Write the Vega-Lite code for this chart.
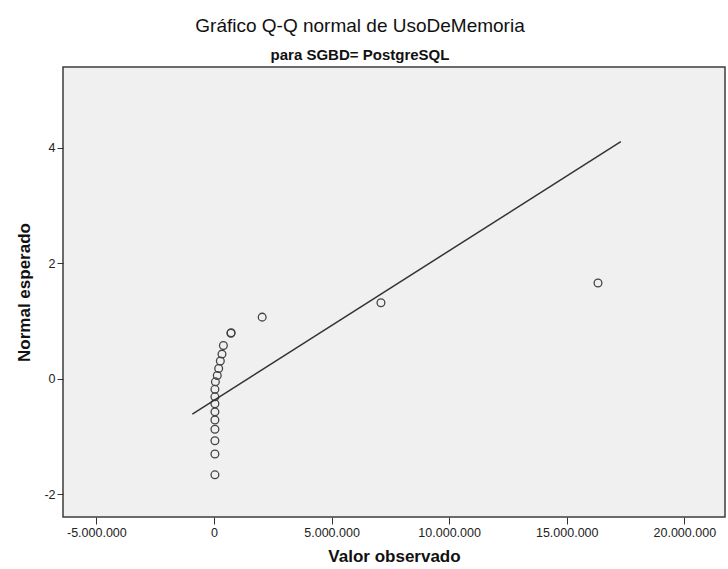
{
  "$schema": "https://vega.github.io/schema/vega-lite/v6.json",
  "width": 662,
  "height": 450,
  "autosize": {"type": "none"},
  "padding": {"left": 63, "top": 67, "right": 3, "bottom": 52},
  "background": "white",
  "config": {
    "locale": {"number": {"decimal": ",", "thousands": ".", "grouping": [3], "currency": ["", ""], "minus": "-"}},
    "view": {"fill": "#f0f0f0", "stroke": "#3c3c3c", "strokeWidth": 1.5},
    "font": "Liberation Sans"
  },
  "title": {
    "text": "Gráfico Q-Q normal de UsoDeMemoria",
    "subtitle": "para SGBD= PostgreSQL",
    "anchor": "middle",
    "dx": -34,
    "fontSize": 19,
    "fontWeight": "normal",
    "color": "#111",
    "subtitleFontSize": 15,
    "subtitleFontWeight": "bold",
    "subtitleColor": "#111",
    "subtitlePadding": 12,
    "offset": 4
  },
  "layer": [
    {
      "data": {"values": [
        {"observado": 2050000, "esperado": 1.07},
        {"observado": 720000, "esperado": 0.79},
        {"observado": 730000, "esperado": 0.80},
        {"observado": 400000, "esperado": 0.58},
        {"observado": 340000, "esperado": 0.43},
        {"observado": 270000, "esperado": 0.31},
        {"observado": 200000, "esperado": 0.18},
        {"observado": 140000, "esperado": 0.06},
        {"observado": 60000, "esperado": -0.05},
        {"observado": 40000, "esperado": -0.18},
        {"observado": 40000, "esperado": -0.31},
        {"observado": 40000, "esperado": -0.43},
        {"observado": 40000, "esperado": -0.57},
        {"observado": 40000, "esperado": -0.71},
        {"observado": 40000, "esperado": -0.87},
        {"observado": 40000, "esperado": -1.07},
        {"observado": 40000, "esperado": -1.30},
        {"observado": 40000, "esperado": -1.66},
        {"observado": 7100000, "esperado": 1.32},
        {"observado": 16330000, "esperado": 1.66}
      ]},
      "mark": {"type": "point", "shape": "circle", "filled": false, "stroke": "#444444", "strokeWidth": 1.3, "size": 60, "opacity": 1},
      "encoding": {
        "x": {
          "field": "observado", "type": "quantitative",
          "scale": {"domain": [-6420000, 21730000], "nice": false, "zero": false},
          "axis": {
            "values": [-5000000, 0, 5000000, 10000000, 15000000, 20000000],
            "format": ",d",
            "grid": false, "domain": false,
            "tickColor": "#333", "tickSize": 7, "tickWidth": 1,
            "labelFontSize": 12.5, "labelColor": "#222", "labelPadding": 2,
            "title": "Valor observado", "titleFontSize": 17, "titleFontWeight": "bold", "titleColor": "#111", "titlePadding": 10
          }
        },
        "y": {
          "field": "esperado", "type": "quantitative",
          "scale": {"domain": [-2.39, 5.4], "nice": false, "zero": false},
          "axis": {
            "values": [-2, 0, 2, 4],
            "format": "d",
            "grid": false, "domain": false,
            "tickColor": "#333", "tickSize": 6, "tickWidth": 1,
            "labelFontSize": 12.5, "labelColor": "#222", "labelPadding": 2,
            "title": "Normal esperado", "titleFontSize": 17, "titleFontWeight": "bold", "titleColor": "#111", "titlePadding": 10
          }
        }
      }
    },
    {
      "data": {"values": [
        {"observado": -920000, "esperado": -0.61},
        {"observado": 17300000, "esperado": 4.11}
      ]},
      "mark": {"type": "line", "color": "#333333", "strokeWidth": 1.5},
      "encoding": {
        "x": {"field": "observado", "type": "quantitative"},
        "y": {"field": "esperado", "type": "quantitative"}
      }
    }
  ]
}
